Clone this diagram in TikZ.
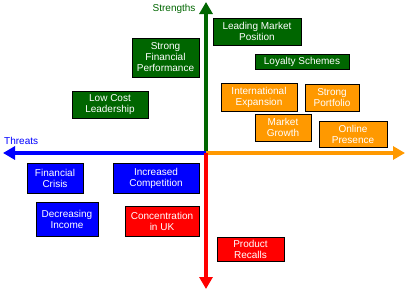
\documentclass[tikz,border=0pt]{standalone}
\usepackage{fontspec}
\setmainfont{Liberation Sans}
\usetikzlibrary{arrows.meta}
\definecolor{swotGreen}{RGB}{0,102,0}
\definecolor{swotOrange}{RGB}{255,153,0}
\begin{document}
\begin{tikzpicture}[
        x=1pt, y=-1pt,
        font=\fontsize{10}{11}\selectfont,
        axis/.style={line width=4pt, -{Triangle[length=12pt, width=13pt]}},
        box/.style={draw=black, line width=0.8pt, text=white, align=center, inner sep=1pt},
        strength/.style={box, fill=swotGreen},
        opportunity/.style={box, fill=swotOrange},
        weakness/.style={box, fill=blue},
        threat/.style={box, fill=red}
    ]
        \useasboundingbox (0,0) rectangle (407,292);
        \coordinate (origin) at (206,153);
        \coordinate (strengthTip) at (206,2);
        \coordinate (threatTip) at (3,153);
        \coordinate (opportunityTip) at (405,153);
        \coordinate (riskTip) at (206,289);

        \draw[axis, swotGreen] (origin) -- (strengthTip);
        \draw[axis, blue] (origin) -- (threatTip);
        \draw[axis, swotOrange] (origin) -- (opportunityTip);
        \draw[axis, red] (origin) -- (riskTip);

        \node[text=swotGreen, anchor=east] (strengthsLabel) at (199,9) {Strengths};
        \node[text=blue, anchor=west, inner xsep=0pt] (threatsLabel) at (4,141) {Threats};

        \node[strength, minimum width=88, minimum height=27] (leadingMarket)
            at (257,31.5) {Leading Market\\Position};
        \node[strength, minimum width=94, minimum height=15] (loyaltySchemes)
            at (302,61.5) {Loyalty Schemes};
        \node[strength, minimum width=67, minimum height=39] (strongFinancial)
            at (165.5,57.5) {Strong\\Financial\\Performance};
        \node[strength, minimum width=76, minimum height=27] (lowCost)
            at (110,104.5) {Low Cost\\Leadership};

        \node[opportunity, minimum width=76, minimum height=28] (international)
            at (259,97) {International\\Expansion};
        \node[opportunity, minimum width=54, minimum height=27] (strongPortfolio)
            at (332,97.5) {Strong\\Portfolio};
        \node[opportunity, minimum width=56, minimum height=27] (marketGrowth)
            at (283,127.5) {Market\\Growth};
        \node[opportunity, minimum width=68, minimum height=26] (onlinePresence)
            at (353,134) {Online\\Presence};

        \node[weakness, minimum width=56, minimum height=30] (financialCrisis)
            at (55,178) {Financial\\Crisis};
        \node[weakness, minimum width=86, minimum height=30] (increasedCompetition)
            at (156,178) {Increased\\Competition};
        \node[weakness, minimum width=62, minimum height=34] (decreasingIncome)
            at (67,219) {Decreasing\\Income};

        \node[threat, minimum width=74, minimum height=30] (concentrationUK)
            at (162,221) {Concentration\\in UK};
        \node[threat, minimum width=67, minimum height=24] (productRecalls)
            at (250.5,249) {Product\\Recalls};
    \end{tikzpicture}
\end{document}
